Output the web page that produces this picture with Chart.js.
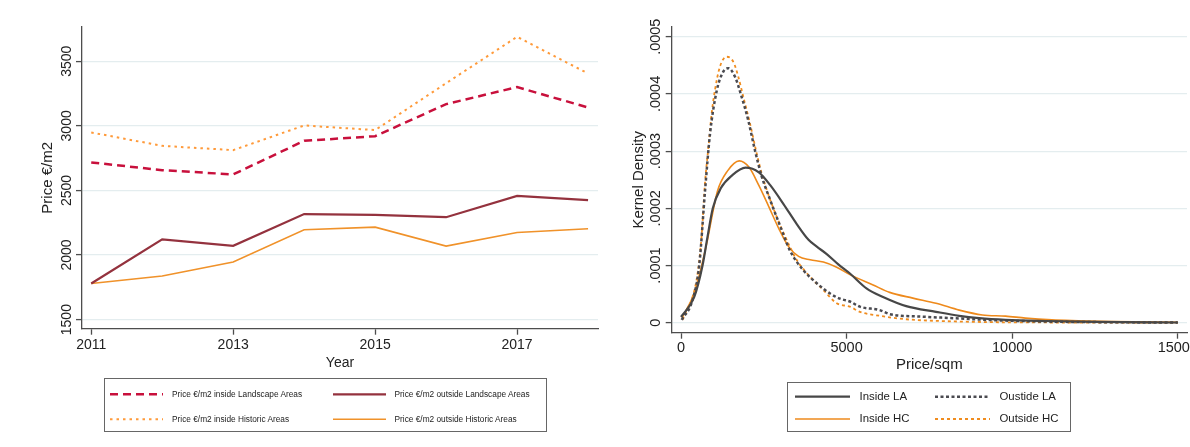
<!DOCTYPE html>
<html><head><meta charset="utf-8">
<script src="https://cdn.jsdelivr.net/npm/chart.js@4.4.0/dist/chart.umd.min.js"></script>
<style>
html,body{margin:0;padding:0;background:#fff;overflow:hidden;width:1190px;height:447px;}
#wrap{position:relative;width:1190px;height:447px;overflow:hidden;}
canvas{position:absolute;top:0;}
#c1{left:0;}
#c2{left:600px;}
.box{position:absolute;border:1px solid #666;box-sizing:border-box;}
.lt{position:absolute;font-family:"Liberation Sans",Arial,sans-serif;color:#222;white-space:nowrap;line-height:1;}
svg.ls{position:absolute;overflow:visible;left:0;top:0;}
</style></head><body>
<div id="wrap">
<canvas id="c1" width="600" height="447"></canvas>
<canvas id="c2" width="640" height="447"></canvas>
<svg class="ls" id="legsvg" width="1190" height="447"></svg>
</div>
<script>
// ---------- Left chart data ----------
const years = [2011, 2012, 2013, 2014, 2015, 2016, 2017, 2018];
const insideLandscape  = [2717, 2657, 2624, 2884, 2920, 3168, 3300, 3142];
const outsideLandscape = [1780, 2121, 2071, 2317, 2311, 2293, 2458, 2425];
const insideHistoric   = [2949, 2845, 2812, 3003, 2967, 3330, 3689, 3405];
const outsideHistoric  = [1780, 1838, 1946, 2196, 2216, 2069, 2175, 2203];
const yearTicks  = [2011, 2013, 2015, 2017];
const priceTicks = [1500, 2000, 2500, 3000, 3500];
const priceTickLabels = ['1500', '2000', '2500', '3000', '3500'];
const leftLabels = ['Price €/m2 inside Landscape Areas', 'Price €/m2 outside Landscape Areas',
                    'Price €/m2 inside Historic Areas', 'Price €/m2 outside Historic Areas'];

// ---------- Right chart data (kernel densities) ----------
const insideLAx = [0, 400, 650, 800, 960, 1200, 1550, 1950, 2350, 2700, 3100, 3500, 3850, 4100, 4400, 4750, 5100, 5600, 6100, 6800, 7700, 8400, 9000, 9800, 11000, 12500, 15000];
const insideLAy = [0.0000100, 0.0000450, 0.000100, 0.000150, 0.000200, 0.000235, 0.000258, 0.000271, 0.000263, 0.000240, 0.000207, 0.000172, 0.000145, 0.000133, 0.000120, 0.000102, 0.0000860, 0.0000600, 0.0000450, 0.0000290, 0.0000190, 0.0000120, 0.0000080, 0.0000050, 0.0000030, 0.0000015, 0.0000003];
const outsideLAx = [20, 350, 550, 725, 876, 1077, 1277, 1430, 1630, 1830, 2030, 2230, 2430, 2690, 3000, 3300, 3690, 4100, 4500, 4800, 5100, 5400, 6000, 6300, 7300, 8300, 9300, 11000, 13000, 15000];
const outsideLAy = [0.0000050, 0.0000400, 0.000100, 0.000230, 0.000330, 0.000405, 0.000439, 0.000445, 0.000430, 0.000395, 0.000354, 0.000302, 0.000257, 0.000215, 0.000168, 0.000125, 0.0000920, 0.0000690, 0.0000510, 0.0000420, 0.0000370, 0.0000280, 0.0000220, 0.0000150, 0.0000105, 0.0000077, 0.0000047, 0.0000020, 0.0000008, 0.0000002];
const insideHCx = [30, 400, 625, 800, 950, 1100, 1400, 1760, 2050, 2350, 2650, 2950, 3250, 3550, 3900, 4300, 4700, 5100, 5800, 6300, 7000, 7700, 8400, 9100, 9800, 10400, 11200, 12000, 13000, 15000];
const insideHCy = [0.0000080, 0.0000520, 0.000100, 0.000145, 0.000190, 0.000230, 0.000265, 0.000283, 0.000272, 0.000240, 0.000203, 0.000165, 0.000133, 0.000116, 0.000110, 0.000106, 0.0000970, 0.0000840, 0.0000660, 0.0000530, 0.0000430, 0.0000340, 0.0000220, 0.0000135, 0.0000115, 0.0000080, 0.0000050, 0.0000035, 0.0000020, 0.0000005];
const outsideHCx = [50, 470, 620, 725, 825, 926, 1026, 1177, 1380, 1580, 1730, 1880, 2080, 2285, 2436, 2590, 2890, 3190, 3490, 3900, 4300, 4700, 5100, 5400, 6000, 6800, 7800, 9300, 11000, 15000];
const outsideHCy = [0.0000050, 0.0000750, 0.000150, 0.000245, 0.000305, 0.000366, 0.000407, 0.000448, 0.000465, 0.000456, 0.000430, 0.000395, 0.000349, 0.000296, 0.000261, 0.000232, 0.000185, 0.000145, 0.000110, 0.0000800, 0.0000570, 0.0000340, 0.0000280, 0.0000190, 0.0000120, 0.0000060, 0.0000030, 0.0000010, 0.0000004, 0.0000001];
const sqmTicks = [0, 5000, 10000, 15000];
const densityTicks = [0, 0.0001, 0.0002, 0.0003, 0.0004, 0.0005];
const densityTickLabels = ['0', '.0001', '.0002', '.0003', '.0004', '.0005'];
const rightLabels = ['Inside LA', 'Oustide LA', 'Inside HC', 'Outside HC'];

const FONT = '"Liberation Sans", Arial, Helvetica, sans-serif';
const TXT = '#222';
const AXIS = '#4d4d4d';
const GRID = '#e4edef';

const pts = (xs, ys) => xs.map((x, i) => ({x: x, y: ys[i]}));

const rotY = {
  id: 'rotY',
  afterDraw(chart, args, o) {
    const s = chart.scales.y, ctx = chart.ctx;
    ctx.save();
    ctx.font = o.font; ctx.fillStyle = TXT; ctx.textAlign = 'center'; ctx.textBaseline = 'alphabetic';
    s.ticks.forEach((t, i) => {
      const py = s.getPixelForValue(t.value);
      ctx.save(); ctx.translate(o.x, py); ctx.rotate(-Math.PI / 2); ctx.fillText(o.labels[i], 0, 0); ctx.restore();
    });
    ctx.restore();
  }
};

// styles
const leftStyles = [
  {color: '#c8103c', width: 2.5, dash: [8, 5]},
  {color: '#94323e', width: 2.2, dash: []},
  {color: '#ff9a3a', width: 2.0, dash: [2.5, 4]},
  {color: '#f0922a', width: 1.6, dash: []}
];
const rightStyles = [
  {color: '#474747', width: 2.2, dash: []},
  {color: '#4a4a50', width: 2.5, dash: [3, 2.5]},
  {color: '#ee8a1c', width: 1.6, dash: []},
  {color: '#f08c1e', width: 1.8, dash: [3, 3]}
];

const leftSeries = [insideLandscape, outsideLandscape, insideHistoric, outsideHistoric];
new Chart(document.getElementById('c1'), {
  type: 'line',
  data: {
    datasets: leftSeries.map((vals, i) => ({
      label: leftLabels[i], data: pts(years, vals),
      borderColor: leftStyles[i].color, borderWidth: leftStyles[i].width, borderDash: leftStyles[i].dash,
      pointRadius: 0, tension: 0, fill: false, borderCapStyle: 'butt'
    }))
  },
  options: {
    responsive: false, animation: false,
    layout: {padding: {left: 0, top: 27, right: 2, bottom: 75.6}},
    plugins: {legend: {display: false}, tooltip: {enabled: false},
      rotY: {x: 71, font: '14px ' + FONT, labels: priceTickLabels}},
    scales: {
      x: {
        type: 'linear', min: 2010.87, max: 2018.14,
        afterBuildTicks: s => { s.ticks = yearTicks.map(v => ({value: v})); },
        afterFit: s => { s.height = 42.7; },
        ticks: {color: TXT, font: {family: FONT, size: 14}, padding: 2, maxRotation: 0, callback: v => String(v)},
        grid: {drawOnChartArea: false, drawTicks: true, tickLength: 6, tickColor: AXIS, tickWidth: 1.3},
        border: {color: AXIS, width: 1.3},
        title: {display: true, text: 'Year', color: TXT, font: {family: FONT, size: 14}, padding: 0}
      },
      y: {
        type: 'linear', min: 1430, max: 3765,
        afterBuildTicks: s => { s.ticks = priceTicks.map(v => ({value: v})); },
        afterFit: s => { s.width = 82; },
        ticks: {display: false},
        grid: {color: GRID, lineWidth: 1.2, drawTicks: true, tickLength: 6, tickColor: AXIS, tickWidth: 1.3},
        border: {color: AXIS, width: 1.3},
        title: {display: true, text: 'Price €/m2', color: TXT, font: {family: FONT, size: 15}, padding: {top: 39, bottom: 0}}
      }
    }
  },
  plugins: [rotY]
});

const rightX = [insideLAx, outsideLAx, insideHCx, outsideHCx];
const rightY = [insideLAy, outsideLAy, insideHCy, outsideHCy];
new Chart(document.getElementById('c2'), {
  type: 'line',
  data: {
    datasets: rightX.map((xs, i) => ({
      label: rightLabels[i], data: pts(xs, rightY[i]),
      borderColor: rightStyles[i].color, borderWidth: rightStyles[i].width, borderDash: rightStyles[i].dash,
      pointRadius: 0, cubicInterpolationMode: 'monotone', fill: false, borderCapStyle: 'butt'
    }))
  },
  options: {
    responsive: false, animation: false,
    layout: {padding: {left: 0, top: 27, right: 53, bottom: 73}},
    plugins: {legend: {display: false}, tooltip: {enabled: false},
      rotY: {x: 59.5, font: '14.5px ' + FONT, labels: densityTickLabels}},
    scales: {
      x: {
        type: 'linear', min: -281, max: 15278,
        afterBuildTicks: s => { s.ticks = sqmTicks.map(v => ({value: v})); },
        afterFit: s => { s.height = 41.3; },
        ticks: {color: TXT, font: {family: FONT, size: 14.5}, padding: 1, maxRotation: 0, callback: v => String(v)},
        grid: {drawOnChartArea: false, drawTicks: true, tickLength: 6, tickColor: AXIS, tickWidth: 1.3},
        border: {color: AXIS, width: 1.3},
        title: {display: true, text: 'Price/sqm', color: TXT, font: {family: FONT, size: 15}, padding: 0}
      },
      y: {
        type: 'linear', min: -0.0000175, max: 0.000517,
        afterBuildTicks: s => { s.ticks = densityTicks.map(v => ({value: v})); },
        afterFit: s => { s.width = 71.7; },
        ticks: {display: false},
        grid: {color: GRID, lineWidth: 1.2, drawTicks: true, tickLength: 6, tickColor: AXIS, tickWidth: 1.3},
        border: {color: AXIS, width: 1.3},
        title: {display: true, text: 'Kernel Density', color: TXT, font: {family: FONT, size: 15}, padding: {top: 29.5, bottom: 0}}
      }
    }
  },
  plugins: [rotY]
});

// ---------- HTML legends ----------
const wrap = document.getElementById('wrap');
const svg = document.getElementById('legsvg');
function addBox(l, t, w, h) {
  const d = document.createElement('div'); d.className = 'box';
  d.style.left = l + 'px'; d.style.top = t + 'px'; d.style.width = w + 'px'; d.style.height = h + 'px';
  wrap.insertBefore(d, svg);
}
function addItem(x1, x2, tx, y, fs, label, st) {
  const ln = document.createElementNS('http://www.w3.org/2000/svg', 'line');
  ln.setAttribute('x1', x1); ln.setAttribute('x2', x2); ln.setAttribute('y1', y); ln.setAttribute('y2', y);
  ln.setAttribute('stroke', st.color); ln.setAttribute('stroke-width', st.width);
  if (st.dash.length) ln.setAttribute('stroke-dasharray', st.dash.join(' '));
  svg.appendChild(ln);
  const t = document.createElement('div'); t.className = 'lt';
  t.textContent = label; t.style.fontSize = fs + 'px';
  t.style.left = tx + 'px'; t.style.top = (y - 0.49 * fs) + 'px';
  wrap.appendChild(t);
}
addBox(104, 378, 443, 54);
const lRows = [394.3, 394.3, 419.3, 419.3];
const lCols = [[110, 163, 172], [333, 386, 394.5], [110, 163, 172], [333, 386, 394.5]];
leftLabels.forEach((lab, i) => addItem(lCols[i][0], lCols[i][1], lCols[i][2], lRows[i], 8.3, lab, leftStyles[i]));

addBox(787, 382, 284, 50);
const rRows = [396.7, 396.7, 419, 419];
const rCols = [[795, 850, 859.5], [935, 990, 999.5], [795, 850, 859.5], [935, 990, 999.5]];
rightLabels.forEach((lab, i) => addItem(rCols[i][0], rCols[i][1], rCols[i][2], rRows[i], 11.4, lab, rightStyles[i]));
</script>
</body></html>
